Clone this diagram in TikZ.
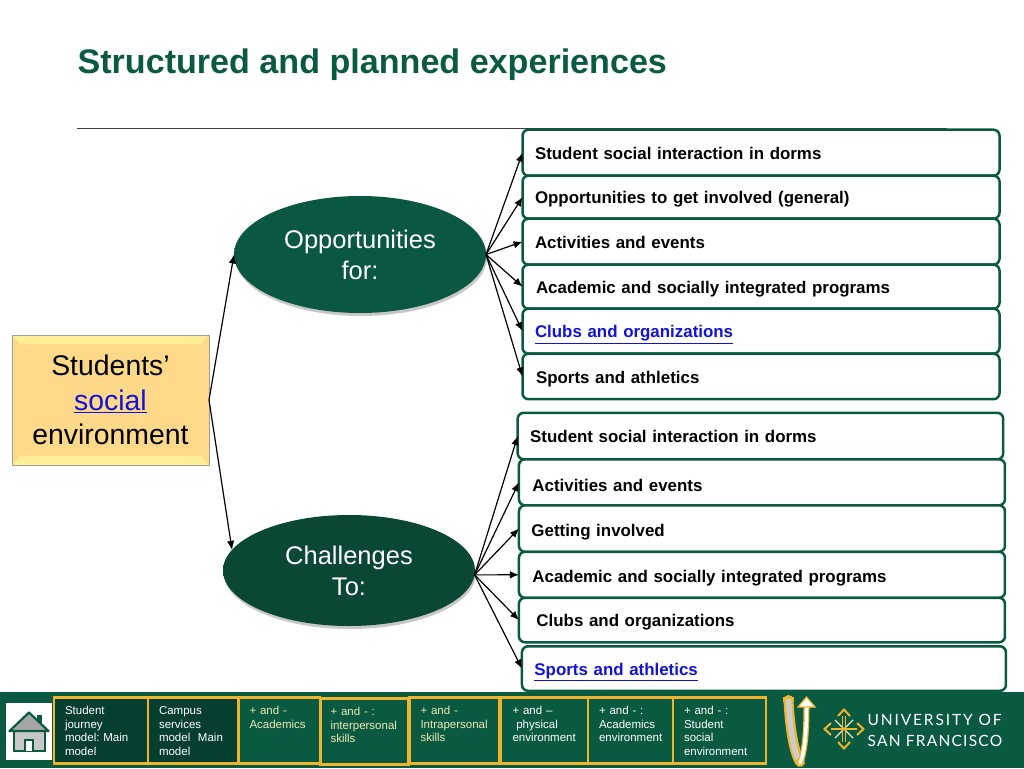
\documentclass[tikz,border=0pt]{standalone}
\usepackage{fontspec}
\setmainfont{Liberation Sans}
\newfontfamily\logoupper[LetterSpace=12]{Lato}
\newfontfamily\logolower[LetterSpace=8]{Lato}
\usetikzlibrary{positioning,shapes.geometric,shadows,arrows.meta}

\definecolor{usfgreen}{HTML}{0A5A41}
\definecolor{navdark}{HTML}{063F2F}
\definecolor{navgold}{HTML}{F0B42C}
\definecolor{navpale}{HTML}{EDE9B8}
\definecolor{linkblue}{HTML}{1212D8}
\definecolor{oppcore}{HTML}{0B5842}
\definecolor{opprim}{HTML}{2B7E63}
\definecolor{chacore}{HTML}{0A4735}
\definecolor{charim}{HTML}{1F6B54}
\definecolor{bevelface}{HTML}{FFD98A}
\definecolor{bevellight}{HTML}{FFEE98}

\pgfdeclareradialshading{oppglow}{\pgfpointorigin}{color(0bp)=(oppcore);color(44bp)=(oppcore);color(50bp)=(opprim)}
\pgfdeclareradialshading{chaglow}{\pgfpointorigin}{color(0bp)=(chacore);color(43bp)=(chacore);color(50bp)=(charim)}

\newcommand{\linktext}[1]{\textcolor{linkblue}{\underline{#1}}}
\frenchspacing

\tikzset{
  listbox/.style={draw=usfgreen, fill=white, line width=2.5pt, rounded corners=6pt, outer sep=0pt,
    inner xsep=12.5pt, inner ysep=0pt, text width=452pt, align=left, minimum height=#1,
    text height=13.5pt, text depth=0pt,
    font=\fontsize{16.9}{19}\selectfont\bfseries},
  oval/.style={shape=ellipse, shade, inner sep=0pt, outer sep=0pt, text=white, align=center,
    font=\fontsize{25.5}{31}\selectfont,
    drop shadow={shadow xshift=1pt, shadow yshift=-3pt, opacity=0.22, fill=black}},
  navbox/.style={draw=navgold, fill=usfgreen, line width=2.5pt, outer sep=0pt, inner xsep=11pt, inner ysep=0pt,
    text width=#1-22pt, text height=17pt, text depth=49pt, align=left, text=navpale,
    font=\fontsize{11.5}{13.7}\selectfont},
  navdarkbox/.style={navbox=#1, fill=navdark, text=white},
  navwhitebox/.style={navbox=#1, text=white},
}

\begin{document}
\begin{tikzpicture}[x=1pt, y=-1pt, line width=1.2pt, >={Latex[length=9pt,width=7.5pt]}]
    \useasboundingbox (0,0) rectangle (1024,768);

    \node[anchor=base west, inner sep=0pt, text=usfgreen, font=\fontsize{34.1}{38}\selectfont\bfseries] (title) at (77,74) {Structured and planned experiences};
    \coordinate (ruleL) at (77,128);
    \coordinate (ruleR) at (947,128);
    \draw[line width=1pt, black!75] (ruleL) -- (ruleR);

    % upper list
    \node[listbox=46pt, anchor=north west] (a1) at (522.5,129.7) {Student social interaction in dorms};
    \node[listbox=43pt, below=0pt of a1] (a2) {Opportunities to get involved (general)};
    \node[listbox=46pt, below=0pt of a2] (a3) {Activities and events};
    \node[listbox=44pt, below=0pt of a3] (a4) {\hspace*{1pt}Academic and socially integrated programs};
    \node[listbox=45pt, below=0pt of a4] (a5) {\linktext{Clubs and organizations}};
    \node[listbox=45.5pt, below=0pt of a5] (a6) {\hspace*{1pt}Sports and athletics};

    % lower list
    \node[listbox=46.5pt, text width=460.5pt, anchor=north west] (b1) at (517.7,412.8) {Student social interaction in dorms};
    \node[listbox=46pt, text width=461pt, text height=18pt, below=0pt of b1, xshift=1.5pt] (b2) {\hspace*{1pt}Activities and events};
    \node[listbox=46.5pt, text width=461pt, text height=15pt, below=0pt of b2] (b3) {Getting involved};
    \node[listbox=46pt, text width=461pt, text height=16pt, below=0pt of b3] (b4) {\hspace*{1pt}Academic and socially integrated programs};
    \node[listbox=44.5pt, text width=461pt, below=0pt of b4] (b5) {\hspace*{5pt}Clubs and organizations};
    \node[listbox=44.5pt, text width=459pt, below=4pt of b5, xshift=2pt] (b6) {\linktext{Sports and athletics}};

    % left box and ovals
    \node[draw=black!38, line width=1pt, outer sep=0pt, inner sep=0pt, minimum width=197pt, minimum height=130pt, align=center,
        font=\fontsize{28.4}{34.5}\selectfont,
        path picture={
            \fill[bevelface] (path picture bounding box.south west) rectangle (path picture bounding box.north east);
            \fill[bevellight] (path picture bounding box.north west) -- (path picture bounding box.north east) -- ([shift={(-8pt,-9pt)}]path picture bounding box.north east) -- ([shift={(8pt,-9pt)}]path picture bounding box.north west) -- cycle;
            \fill[bevellight] (path picture bounding box.south west) -- (path picture bounding box.south east) -- ([shift={(-8pt,9pt)}]path picture bounding box.south east) -- ([shift={(8pt,9pt)}]path picture bounding box.south west) -- cycle;
        }] (social) at (110.5,400) {Students’\\\linktext{social}\\environment};

    \node[oval, shading=oppglow, minimum width=252pt, minimum height=117pt] (opp) at (360,254.5) {Opportunities\\for:};
    \node[oval, shading=chaglow, minimum width=252pt, minimum height=111pt] (cha) at (349,570.5) {Challenges\\To:};

    \draw[->] (social.east) -- (opp.west);
    \draw[->] (social.east) -- (cha.170);

    \draw[->] (opp.east) -- (a1.west);
    \draw[->] (opp.east) -- (a2.west);
    \draw[->] (opp.east) -- (a3.west);
    \draw[->] (opp.east) -- (a4.west);
    \draw[->] (opp.east) -- (a5.west);
    \draw[->] (opp.east) -- (a6.west);

    \draw[->] (cha.358) -- (b1.west);
    \draw[->] (cha.358) -- (b2.west);
    \draw[->] (cha.358) -- (b3.west);
    \draw[->] (cha.358) -- (b4.west);
    \draw[->] (cha.358) -- (b5.west);
    \draw[->] (cha.358) -- (b6.west);

    % footer
    \fill[usfgreen] (0,691.5) rectangle (1024,768);
    \fill[white] (6,703) rectangle (52,760);

    \node[navdarkbox=94pt, anchor=north west] (n1) at (54,697.5) {Student\\journey\\model: Main\\model};
    \node[navdarkbox=90pt, right=0pt of n1] (n2) {Campus\\services\\model\ \ Main\\model};
    \node[navbox=81.5pt, right=0.5pt of n2] (n3) {+ and -\\Academics};
    \node[navbox=88.5pt, right=0.5pt of n3, yshift=-1pt, inner xsep=10pt, text width=68pt] (n4) {+ and - :\\interpersonal\\skills};
    \node[navbox=90pt, right=1pt of n4, yshift=1pt] (n5) {+ and -\\Intrapersonal\\skills};
    \node[navwhitebox=87.5pt, right=1pt of n5, inner xsep=12pt, text width=63.5pt] (n6) {+ and –\\\ physical\\environment};
    \node[navwhitebox=85pt, right=0pt of n6] (n7) {+ and - :\\Academics\\environment};
    \node[navwhitebox=93pt, right=0pt of n7] (n8) {+ and - :\\Student\\social\\environment};

    % home icon
    \draw[line width=2pt, usfgreen, fill=black!22] (13.5,731) rectangle (45,751);
    \draw[line width=2pt, usfgreen, fill=white] (25,751) -- (25,740) -- (33,740) -- (33,751);
    \fill[usfgreen] (37,715) rectangle (41.5,726);
    \draw[line width=2.2pt, usfgreen, fill=black!35, line join=round] (9.5,731) -- (29,712.5) -- (48.5,731) -- cycle;

    % v mark
    \draw[line width=10pt, navgold, line cap=round] (788.5,700) .. controls (790,730) and (794,752) .. (800,762);
    \fill[navgold] (783.4,697) rectangle (793.6,702);
    \draw[line width=5.5pt, black!20] (788.5,699) .. controls (790,730) and (794,750) .. (798,759);
    \draw[line width=6pt, navgold, line cap=round] (806.5,706) .. controls (806.5,730) and (805,752) .. (800,763);
    \draw[line width=3.5pt, white, line cap=round] (806.5,706) .. controls (806.5,730) and (805,752) .. (800,763);
    \draw[line width=1.2pt, navgold, fill=white] (806.5,697) -- (815,707) -- (798,707) -- cycle;

    % campus emblem
    \draw[line width=2pt, navgold] (838,716) -- (844,709.5) -- (850,716);
    \draw[line width=2pt, navgold] (838,742) -- (844,748.5) -- (850,742);
    \draw[line width=2pt, navgold] (831,723) -- (824.5,729) -- (831,735);
    \draw[line width=2pt, navgold] (857,723) -- (863.5,729) -- (857,735);
    \draw[line width=1.3pt, navpale] (835,720) -- (853,738);
    \draw[line width=1.3pt, navpale] (853,720) -- (835,738);
    \draw[line width=1.2pt, navgold] (842.5,716) -- (842.5,742);
    \draw[line width=1.2pt, navgold] (845.5,716) -- (845.5,742);
    \draw[line width=2pt, navgold] (831,729) -- (857,729);

    \node[anchor=base west, inner sep=0pt, text=white, align=left, font=\fontsize{15.5}{21}\selectfont] (usf) at (867,746) {{\logoupper UNIVERSITY OF}\\{\logolower SAN FRANCISCO}};
\end{tikzpicture}
\end{document}
